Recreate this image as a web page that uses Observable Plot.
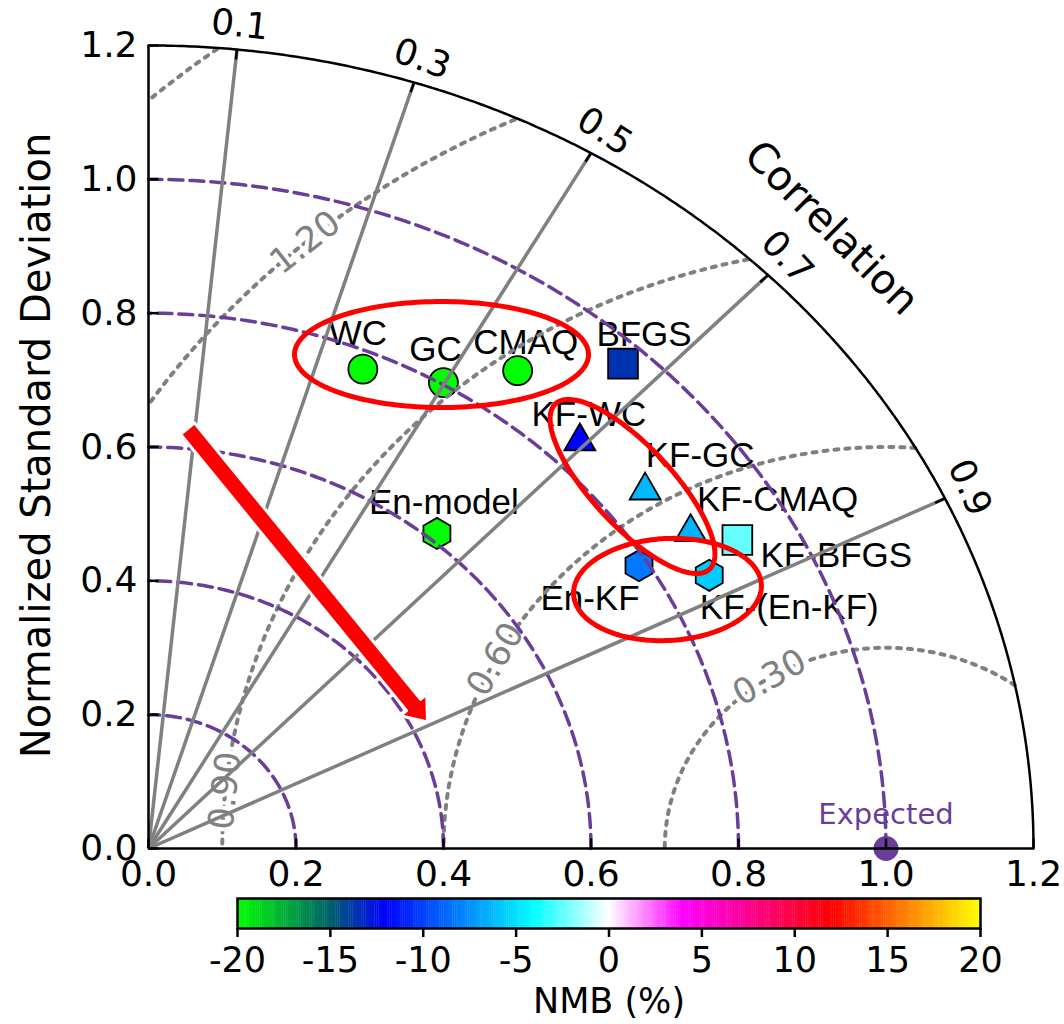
<!DOCTYPE html>
<html>
<head>
<meta charset="utf-8">
<script src="https://cdn.jsdelivr.net/npm/d3@7"></script>
<script src="https://cdn.jsdelivr.net/npm/@observablehq/plot@0.6"></script>
<style>
html, body { margin: 0; padding: 0; background: #ffffff; }
#chart svg { display: block; }
</style>
</head>
<body>
<div id="chart"></div>
<script>
// ---------------- data ----------------
const models = ["WC", "GC", "CMAQ", "BFGS", "KF-WC", "KF-GC", "KF-CMAQ", "KF-BFGS", "En-KF", "KF-(En-KF)", "En-model"];
const stdDev = [0.773, 0.803, 0.872, 0.969, 0.844, 0.860, 0.874, 0.922, 0.788, 0.863, 0.612];
const correlation = [0.376, 0.498, 0.574, 0.664, 0.693, 0.783, 0.841, 0.866, 0.844, 0.881, 0.639];
const nmb = [-20, -20, -20, -13.6, -12, -6.2, -6.4, -2.4, -8.2, -5.6, -20];
const markerShape = ["circle", "circle", "circle", "square", "triangle", "triangle", "triangle", "square", "hexagon", "hexagon", "hexagon"];
const expectedStd = 1.0, expectedCorr = 1.0;

const stdTicks = [0, 0.2, 0.4, 0.6, 0.8, 1.0, 1.2];
const corrTicks = [0.1, 0.3, 0.5, 0.7, 0.9];
const stdArcs = [0.2, 0.4, 0.6, 0.8, 1.0];
const rmsLevels = [0.3, 0.6, 0.9, 1.2, 1.5];
const rmsLabelText = ["0.30", "0.60", "0.90", "1.20"];
const nmbTicks = [-20, -15, -10, -5, 0, 5, 10, 15, 20];
const nmbStops = [-20, -15, -12, -4, 0, 4, 12, 20];
const nmbColors = ["#00ff00", "#00606c", "#0000ff", "#00ffff", "#ffffff", "#ff00ff", "#ff0000", "#ffff00"];

// ---------------- layout / style ----------------
const W = 1064, H = 892, mL = 148, mR = 31, mT = 45, mB = 44;
const stdMax = 1.2;
const sx = (W - mL - mR) / stdMax, sy = (H - mT - mB) / stdMax;
const deg = Math.PI / 180;
const purple = "#6a3d9a", gray = "#808080";
const markerR = {circle: 14.5, square: 16.8, triangle: 11.5, hexagon: 13.5};
const labelOffset = { // px offsets of the label centre from the marker
  "WC": [-5, -35], "GC": [-8, -33], "CMAQ": [8, -28], "BFGS": [21, -29],
  "KF-WC": [9, -27], "KF-GC": [55, -35], "KF-CMAQ": [87, -32], "KF-BFGS": [99, 16],
  "En-KF": [-49, 33], "KF-(En-KF)": [80, 33], "En-model": [7, -31]
};
const rmsLabelAngle = [121.7, 151.9, 174.5, 131]; // position along each RMS circle
const corrLabelRadius = 1.237;
const annoEllipses = [ // centre in data units, semi-axes in px, tilt in degrees
  {cx: 0.3973, cy: 0.7382, a: 147, b: 53, phi: 0},
  {cx: 0.6563, cy: 0.5410, a: 113, b: 40, phi: 47},
  {cx: 0.7037, cy: 0.3870, a: 94, b: 51, phi: -3}
];
const annoArrow = {tail: [0.0529, 0.6276], tip: [0.3783, 0.1890], half: 9, headHalf: 17, headLen: 22};

const colorOpts = {type: "linear", domain: nmbStops, range: nmbColors, clamp: true};

// ---------------- derived geometry ----------------
const rows = models.map((name, i) => {
  const c = correlation[i], s = stdDev[i];
  const x = s * c, y = s * Math.sqrt(1 - c * c);
  const [dx, dy] = labelOffset[name];
  return {name, x, y, nmb: nmb[i], shape: markerShape[i], lx: x + dx / sx, ly: y - dy / sy};
});
const expected = [{x: expectedStd * expectedCorr, y: expectedStd * Math.sqrt(1 - expectedCorr * expectedCorr)}];

const dottedPts = rmsLevels.flatMap(r =>
  d3.range(0, 180.01, 0.2).map(a => ({r, x: 1 + r * Math.cos(a * deg), y: r * Math.sin(a * deg)}))
    .filter(p => p.x >= 0 && p.x * p.x + p.y * p.y <= stdMax * stdMax));
const rmsLabelRows = rmsLabelText.map((t, i) => {
  const r = rmsLevels[i], p = rmsLabelAngle[i] * deg;
  return {t, x: 1 + r * Math.cos(p), y: r * Math.sin(p),
          rot: Math.atan2(Math.cos(p) * sy, Math.sin(p) * sx) / deg};
});
const dashedPts = stdArcs.flatMap(r =>
  d3.range(0, 90.01, 0.5).map(a => ({r, x: r * Math.cos(a * deg), y: r * Math.sin(a * deg)})));
const outerArc = d3.range(0, 90.01, 0.25).map(a => ({x: stdMax * Math.cos(a * deg), y: stdMax * Math.sin(a * deg)}));
const radials = corrTicks.map(c => ({c, s: Math.sqrt(1 - c * c)}));
const corrLabelRows = radials.map(({c, s}) => ({
  t: c.toFixed(1), x: corrLabelRadius * c, y: corrLabelRadius * s,
  rot: Math.atan2(c * sx, s * sy) / deg
}));
const ellipsePts = annoEllipses.flatMap((e, k) => d3.range(0, 361, 2).map(t => {
  const ct = Math.cos(t * deg), st = Math.sin(t * deg), cp = Math.cos(e.phi * deg), sp = Math.sin(e.phi * deg);
  const px = e.a * ct * cp - e.b * st * sp, py = e.a * ct * sp + e.b * st * cp;
  return {k, x: e.cx + px / sx, y: e.cy - py / sy};
}));
const arrowPts = (() => {
  const A = annoArrow;
  const tx = A.tail[0] * sx, ty = -A.tail[1] * sy, hx = A.tip[0] * sx, hy = -A.tip[1] * sy;
  const L = Math.hypot(hx - tx, hy - ty), ux = (hx - tx) / L, uy = (hy - ty) / L, nx = -uy, ny = ux;
  const bx = hx - ux * A.headLen, by = hy - uy * A.headLen;
  const P = [[tx + nx * A.half, ty + ny * A.half], [bx + nx * A.half, by + ny * A.half],
             [bx + nx * A.headHalf, by + ny * A.headHalf], [hx, hy],
             [bx - nx * A.headHalf, by - ny * A.headHalf], [bx - nx * A.half, by - ny * A.half],
             [tx - nx * A.half, ty - ny * A.half], [tx + nx * A.half, ty + ny * A.half]];
  return P.map(([px, py]) => ({x: px / sx, y: -py / sy}));
})();

// ---------------- main Taylor diagram ----------------
const main = Plot.plot({
  width: W, height: H, marginLeft: mL, marginRight: mR, marginTop: mT, marginBottom: mB,
  x: {domain: [0, stdMax]},
  y: {domain: [0, stdMax]},
  color: colorOpts,
  style: {fontFamily: "DejaVu Sans", fontSize: "35px", background: "#ffffff", color: "#000", overflow: "visible"},
  marks: [
    Plot.dot(expected, {x: "x", y: "y", r: 12.5, fill: purple}),
    ...["circle", "square", "triangle", "hexagon"].map(s =>
      Plot.dot(rows.filter(d => d.shape === s), {x: "x", y: "y", symbol: s, r: markerR[s], fill: "nmb", stroke: "black", strokeWidth: 1.8})),
    Plot.text(rows, {x: "lx", y: "ly", text: "name", fontFamily: "Liberation Sans, Arial, sans-serif", fontSize: 35, fill: "black"}),
    Plot.text(["Expected"], {x: () => expected[0].x, y: () => expected[0].y, dy: -34, fill: purple, fontSize: 29}),
    Plot.line(dottedPts, {x: "x", y: "y", z: "r", stroke: gray, strokeWidth: 4, strokeDasharray: "4,7"}),
    Plot.text(rmsLabelRows, {x: "x", y: "y", text: "t", rotate: "rot", fill: gray, stroke: "white", strokeWidth: 8, fontSize: 35}),
    Plot.line(dashedPts, {x: "x", y: "y", z: "r", stroke: purple, strokeWidth: 3.5, strokeDasharray: "14,7"}),
    Plot.link(radials, {x1: () => 0, y1: () => 0, x2: d => stdMax * d.c, y2: d => stdMax * d.s, stroke: gray, strokeWidth: 3.5}),
    Plot.link(radials, {x1: d => (stdMax - 0.015) * d.c, y1: d => (stdMax - 0.015) * d.s, x2: d => stdMax * d.c, y2: d => stdMax * d.s, stroke: "black", strokeWidth: 2.5}),
    Plot.line(outerArc, {x: "x", y: "y", stroke: "black", strokeWidth: 2.5}),
    Plot.ruleX([0], {y1: 0, y2: stdMax, stroke: "black", strokeWidth: 2.5}),
    Plot.ruleY([0], {x1: 0, x2: stdMax, stroke: "black", strokeWidth: 2.5}),
    Plot.link(stdTicks, {x1: () => 0, x2: () => 10 / sx, y1: d => d, y2: d => d, stroke: "black", strokeWidth: 2.5}),
    Plot.link(stdTicks, {x1: d => d, x2: d => d, y1: () => 0, y2: () => 10 / sy, stroke: "black", strokeWidth: 2.5}),
    Plot.axisX({ticks: stdTicks, tickSize: 0, tickPadding: 12, fontSize: 36, tickFormat: d => d.toFixed(1), label: null}),
    Plot.axisY({ticks: stdTicks, tickSize: 0, tickPadding: 11, fontSize: 36, tickFormat: d => d.toFixed(1), label: null}),
    Plot.text(corrLabelRows, {x: "x", y: "y", text: "t", rotate: "rot", fontSize: 36, fill: "black"}),
    Plot.text(["Correlation"], {x: () => 0.926, y: () => 0.927, rotate: 45, fontSize: 41, fill: "black"}),
    Plot.text(["Normalized Standard Deviation"], {x: () => (37 - mL) / sx, y: () => (848 - 445) / sy, rotate: -90, fontSize: 40, fill: "black"}),
    Plot.line(ellipsePts, {x: "x", y: "y", z: "k", stroke: "#ff0000", strokeWidth: 5}),
    Plot.line(arrowPts, {x: "x", y: "y", fill: "#ff0000", stroke: "white", strokeWidth: 3})
  ]
});

// ---------------- colour bar ----------------
const cbSamples = d3.range(-20, 20, 0.1);
const bar = Plot.plot({
  width: W, height: 132, marginLeft: 237, marginRight: 84, marginTop: 6, marginBottom: 96,
  x: {domain: [-20, 20]},
  color: colorOpts,
  style: {fontFamily: "DejaVu Sans", fontSize: "35px", background: "#ffffff", color: "#000", overflow: "visible"},
  marks: [
    Plot.barX(cbSamples, {x1: d => d, x2: d => Math.min(20, d + 0.12), fill: d => d + 0.05}),
    Plot.frame({stroke: "black", strokeWidth: 2.5}),
    Plot.axisX({ticks: nmbTicks, tickSize: 9, tickPadding: 10, strokeWidth: 2.5, fontSize: 35, tickFormat: d => String(d), label: null}),
    Plot.text(["NMB (%)"], {frameAnchor: "bottom", dy: 73, lineAnchor: "middle", fontSize: 35, fill: "black"})
  ]
});

const host = document.getElementById("chart");
host.appendChild(main);
host.appendChild(bar);
</script>
</body>
</html>
